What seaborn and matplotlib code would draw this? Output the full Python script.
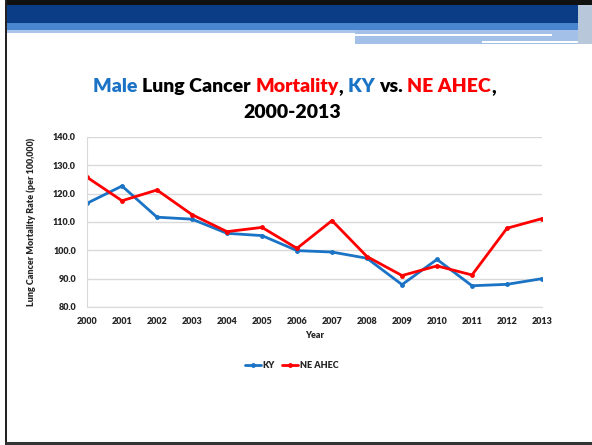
import matplotlib
matplotlib.use("Agg")
import matplotlib.pyplot as plt
import seaborn as sns
import pandas as pd
from matplotlib.patches import Rectangle

# Data
YEARS = list(range(2000, 2014))
KY = [116.6, 122.7, 111.7, 111.0, 106.0, 105.2, 99.9, 99.4, 97.2, 87.9, 96.8, 87.5, 88.0, 90.0]
NE_AHEC = [125.8, 117.5, 121.3, 112.6, 106.6, 108.1, 100.7, 110.5, 97.8, 91.1, 94.5, 91.3, 107.8, 111.2]
SERIES = ["KY", "NE AHEC"]
Y_TICKS = [80, 90, 100, 110, 120, 130, 140]

BLUE = "#1A73C4"
RED = "#FF0000"
W, H = 592, 445
WEIGHT = "heavy"

df = pd.DataFrame({
    "Year": YEARS * 2,
    "Rate": KY + NE_AHEC,
    "Series": [SERIES[0]] * len(YEARS) + [SERIES[1]] * len(YEARS),
})

sns.set_style("white")
plt.rcParams["font.family"] = ["Lato", "DejaVu Sans"]

fig = plt.figure(figsize=(W / 100, H / 100), dpi=100)


def px_rect(x0, y0, x1, y1, color):
    """Rectangle given in pixel coords (origin top-left)."""
    fig.patches.append(Rectangle((x0 / W, 1 - y1 / H), (x1 - x0) / W, (y1 - y0) / H,
                                 transform=fig.transFigure, facecolor=color,
                                 edgecolor="none", zorder=0))


# slide header banner and frame
px_rect(5, 0, W, 5, "#111111")
px_rect(5, 0, 7, H, "#222222")
px_rect(5, 442, W, H, "#333333")
px_rect(7, 5, W, 23, "#0A3D86")
px_rect(7, 23, W, 30, "#4A86D0")
px_rect(7, 30, 355, 33, "#A9C5EA")
px_rect(355, 30, 578, 44, "#A3C0E8")
px_rect(355, 34, 552, 36, "#FFFFFF")
px_rect(482, 41, 585, 43, "#FFFFFF")
px_rect(578, 5, W, 44, "#B9C7DA")

ax = fig.add_axes([87 / W, 1 - 307 / H, 455 / W, 170 / H])
sns.lineplot(data=df, x="Year", y="Rate", hue="Series", palette=[BLUE, RED],
             marker="o", markersize=3.5, markeredgewidth=0, linewidth=2.0,
             ax=ax)

ax.set_xlim(2000, 2013)
ax.set_ylim(80, 140)
ax.set_xticks(YEARS)
ax.set_xticklabels([str(y) for y in YEARS], fontsize=6.5, fontweight=WEIGHT)
ax.set_yticks(Y_TICKS)
ax.set_yticklabels([f"{v:.1f}" for v in Y_TICKS], fontsize=6.5, fontweight=WEIGHT)
ax.tick_params(axis="both", length=0)
ax.tick_params(axis="y", pad=8)
ax.tick_params(axis="x", pad=7)
ax.grid(axis="y", color="#D9D9D9", linewidth=1)
ax.grid(axis="x", visible=False)
for side in ["top", "right"]:
    ax.spines[side].set_visible(False)
ax.spines["left"].set_color("#D9D9D9")
ax.spines["bottom"].set_color("#D9D9D9")
ax.set_xlabel("Year", fontsize=6.5, fontweight=WEIGHT, labelpad=4)
ax.set_ylabel("Lung Cancer Mortality Rate (per 100,000)", fontsize=6.5,
              fontweight=WEIGHT, labelpad=12)

ax.legend(loc="upper center", bbox_to_anchor=(0.45, -0.27), ncol=2, frameon=False,
          handlelength=1.8, columnspacing=0.8, handletextpad=0.2,
          prop={"weight": WEIGHT, "size": 6.5})

# multi-coloured title
parts = [("Male ", BLUE), ("Lung Cancer ", "black"), ("Mortality", RED), (", ", "black"),
         ("KY ", BLUE), ("vs. ", "black"), ("NE AHEC", RED), (",", "black")]
fig.canvas.draw()
renderer = fig.canvas.get_renderer()
texts = []
total = 0
for s, c in parts:
    t = fig.text(0, 1 - 92 / H, s, color=c, fontsize=14, fontweight=WEIGHT, va="baseline")
    w = t.get_window_extent(renderer).width
    texts.append((t, w))
    total += w
x = 294.5 - total / 2
for t, w in texts:
    t.set_x(x / W)
    x += w
fig.text(292 / W, 1 - 118 / H, "2000-2013", color="black", fontsize=14,
         fontweight=WEIGHT, ha="center", va="baseline")

fig.savefig("out.png", dpi=100)
